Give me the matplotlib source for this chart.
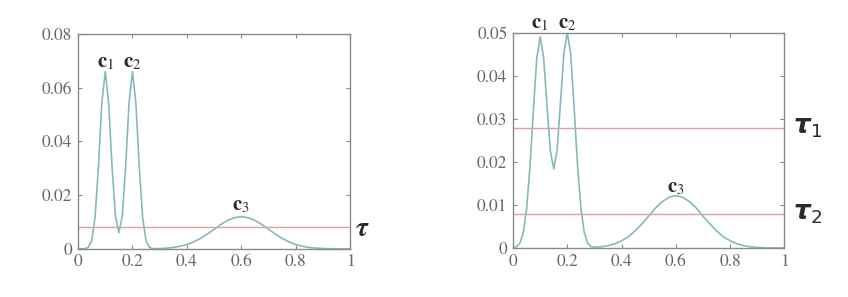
import matplotlib
matplotlib.use("Agg")
import matplotlib.pyplot as plt

# x sample positions (fine near the twin peaks, coarser over the wide bump)
x_vals = [0, 0.0125, 0.025, 0.0375, 0.05, 0.0625, 0.075, 0.0875, 0.1, 0.1125,
          0.125, 0.1375, 0.15, 0.1625, 0.175, 0.1875, 0.2, 0.2125, 0.225, 0.2375,
          0.25, 0.2625, 0.275, 0.2875, 0.3, 0.325, 0.35, 0.375, 0.4, 0.425,
          0.45, 0.475, 0.5, 0.525, 0.55, 0.575, 0.6, 0.625, 0.65, 0.675,
          0.7, 0.725, 0.75, 0.775, 0.8, 0.825, 0.85, 0.875, 0.9, 0.925,
          0.95, 0.975, 1.0]

# left panel density
left_y = [0, 0.000005, 0.00006, 0.00053, 0.0030, 0.0116, 0.0305, 0.0544, 0.066, 0.0544,
          0.0306, 0.0121, 0.0060, 0.0121, 0.0306, 0.0544, 0.066, 0.0544, 0.0305, 0.0116,
          0.0030, 0.00056, 0.00009, 0.00008, 0.00013, 0.00027, 0.00053, 0.00096, 0.0016, 0.0026,
          0.0039, 0.0055, 0.0073, 0.0091, 0.0106, 0.0116, 0.012, 0.0116, 0.0106, 0.0091,
          0.0073, 0.0055, 0.0039, 0.0026, 0.0016, 0.00096, 0.00053, 0.00027, 0.00013, 0.00006,
          0.00002, 0.00001, 0]

# right panel density
right_y = [0.00006, 0.00028, 0.0011, 0.0035, 0.0091, 0.0190, 0.0321, 0.0441, 0.0491, 0.0444,
           0.0332, 0.0226, 0.0184, 0.0229, 0.0339, 0.0453, 0.0501, 0.0450, 0.0328, 0.0194,
           0.0093, 0.0036, 0.0011, 0.0003, 0.0002, 0.00027, 0.00054, 0.00098, 0.0017, 0.0026,
           0.0040, 0.0056, 0.0074, 0.0093, 0.0108, 0.0118, 0.0122, 0.0118, 0.0108, 0.0093,
           0.0074, 0.0056, 0.0040, 0.0026, 0.0017, 0.00098, 0.00054, 0.00027, 0.00013, 0.00006,
           0.00002, 0.00001, 0]

left_tau = 0.008
right_tau1 = 0.028
right_tau2 = 0.008

x_ticks = [0, 0.2, 0.4, 0.6, 0.8, 1]
x_ticklabels = ["0", "0.2", "0.4", "0.6", "0.8", "1"]
left_yticks = [0, 0.02, 0.04, 0.06, 0.08]
left_yticklabels = ["0", "0.02", "0.04", "0.06", "0.08"]
right_yticks = [0, 0.01, 0.02, 0.03, 0.04, 0.05]
right_yticklabels = ["0", "0.01", "0.02", "0.03", "0.04", "0.05"]

curve_color = "#86b9bb"
line_color = "#d6a3a6"
axis_color = "#8a8a8a"
text_color = "#666666"
label_color = "#2a2a2a"

plt.rcParams["font.family"] = "serif"
plt.rcParams["font.serif"] = ["STIXGeneral", "Liberation Serif", "DejaVu Serif"]

fig = plt.figure(figsize=(8.48, 2.97), dpi=100)
ax1 = fig.add_axes([0.092, 0.162, 0.321, 0.724])
ax2 = fig.add_axes([0.605, 0.165, 0.320, 0.724])


def style(ax, yticks, ylabels, ymax):
    ax.set_xlim(0, 1)
    ax.set_ylim(0, ymax)
    ax.set_xticks(x_ticks)
    ax.set_xticklabels(x_ticklabels)
    ax.set_yticks(yticks)
    ax.set_yticklabels(ylabels)
    ax.tick_params(direction="in", length=3, width=0.8, colors=axis_color,
                   labelcolor=text_color, labelsize=12.5, top=True, right=True, pad=4)
    for s in ax.spines.values():
        s.set_color(axis_color)
        s.set_linewidth(1.0)


def clabel(ax, x, y, name):
    ax.text(x, y, r"$\mathbf{c}_" + name + "$", ha="center", va="center", fontsize=15,
            math_fontfamily="stix", color=label_color, clip_on=False)


# left panel
ax1.plot(x_vals, left_y, color=curve_color, lw=1.2)
ax1.axhline(left_tau, color=line_color, lw=1.0)
style(ax1, left_yticks, left_yticklabels, 0.08)
clabel(ax1, 0.1, 0.0695, "1")
clabel(ax1, 0.2, 0.0695, "2")
clabel(ax1, 0.6, 0.016, "3")
ax1.text(1.045, 0.0074, r"$\boldsymbol{\tau}$", ha="center", va="center", fontsize=20,
         math_fontfamily="stix", color=label_color, clip_on=False)

# right panel
ax2.plot(x_vals, right_y, color=curve_color, lw=1.2)
ax2.axhline(right_tau1, color=line_color, lw=1.0)
ax2.axhline(right_tau2, color=line_color, lw=1.0)
style(ax2, right_yticks, right_yticklabels, 0.05)
clabel(ax2, 0.1, 0.0522, "1")
clabel(ax2, 0.2, 0.0522, "2")
clabel(ax2, 0.6, 0.0142, "3")
ax2.text(1.033, right_tau1, r"$\boldsymbol{\tau}_1$", ha="left", va="center", fontsize=19,
         math_fontfamily="dejavusans", color=label_color, clip_on=False)
ax2.text(1.033, right_tau2, r"$\boldsymbol{\tau}_2$", ha="left", va="center", fontsize=19,
         math_fontfamily="dejavusans", color=label_color, clip_on=False)

fig.savefig("out.png", dpi=100, facecolor="white")
